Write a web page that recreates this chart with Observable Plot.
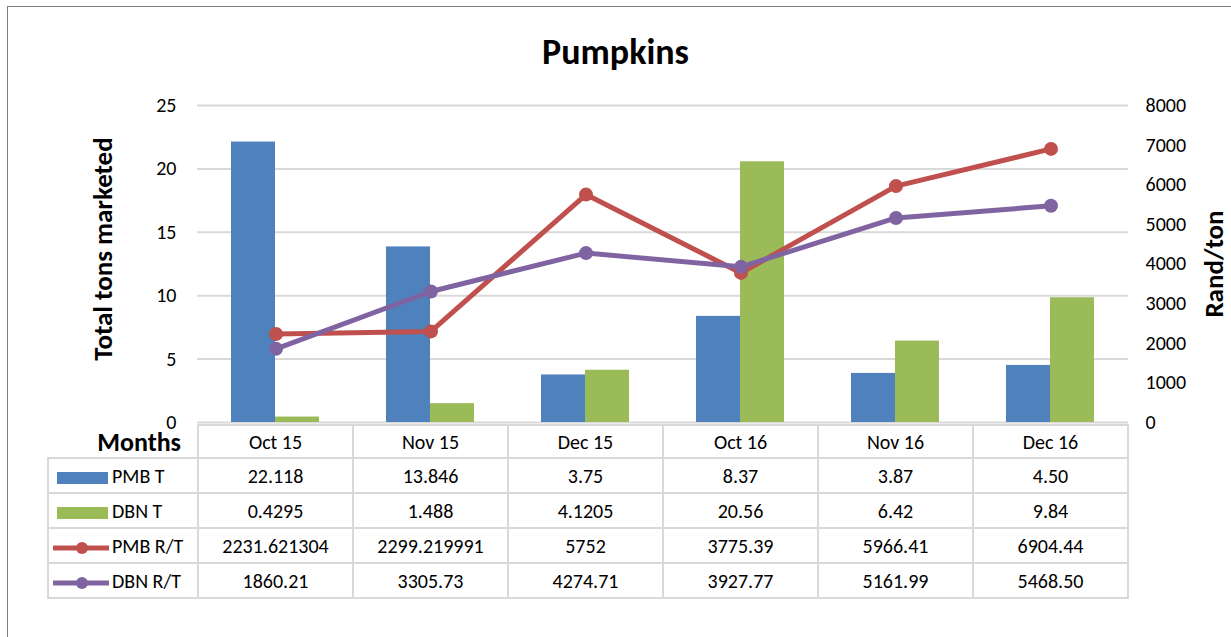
<!DOCTYPE html>
<html><head><meta charset="utf-8">
<script src="https://cdn.jsdelivr.net/npm/d3@7"></script>
<script src="https://cdn.jsdelivr.net/npm/@observablehq/plot@0.6"></script>
<style>
body{margin:0;background:#fff;}
#wrap{position:relative;width:1231px;height:637px;overflow:hidden;font-family:Carlito,Calibri,Lato,sans-serif;color:#000;}
#frame{position:absolute;left:7px;top:6px;width:1300px;height:700px;border-top:1.5px solid #7f7f7f;border-left:1.5px solid #7f7f7f;}
#title{position:absolute;left:0;width:1231px;top:30px;text-align:center;font-weight:bold;font-size:36px;line-height:44px;}
#chart{position:absolute;left:0;top:0;}
#tbl{position:absolute;left:47px;top:424px;border-collapse:collapse;table-layout:fixed;}
#tbl td{border:2px solid #D9D9D9;text-align:center;font-size:20px;padding:0;white-space:nowrap;}
#tbl td.leg{text-align:left;padding-left:4px;}
#tbl td.leg svg{vertical-align:middle;margin-right:3px;}
#tbl td.months{border:none;border-bottom:2px solid #D9D9D9;text-align:right;font-weight:bold;font-size:26px;padding-right:16px;vertical-align:top;line-height:28px;padding-top:3px;}
</style></head>
<body>
<div id="wrap">
  <div id="frame"></div>
  <div id="chart"></div>
  <div id="title">Pumpkins</div>
</div>
<script>
const months = ["Oct 15", "Nov 15", "Dec 15", "Oct 16", "Nov 16", "Dec 16"];
const pmbT = ["22.118", "13.846", "3.75", "8.37", "3.87", "4.50"];
const dbnT = ["0.4295", "1.488", "4.1205", "20.56", "6.42", "9.84"];
const pmbRT = ["2231.621304", "2299.219991", "5752", "3775.39", "5966.41", "6904.44"];
const dbnRT = ["1860.21", "3305.73", "4274.71", "3927.77", "5161.99", "5468.50"];
const leftTicks = [0, 5, 10, 15, 20, 25];
const rightTicks = [0, 1000, 2000, 3000, 4000, 5000, 6000, 7000, 8000];
const seriesNames = ["PMB T", "DBN T", "PMB R/T", "DBN R/T"];
const colors = {"PMB T": "#4F81BD", "DBN T": "#9BBB59", "PMB R/T": "#C0504D", "DBN R/T": "#8064A2"};
const title = "Pumpkins";
const yLabel = "Total tons marketed";
const y2Label = "Rand/ton";

const leftMax = 25, rightMax = 8000;
const k = rightMax / leftMax;

const rows = (arr) => months.map((m, i) => ({month: m, value: +arr[i]}));
const dPmbT = rows(pmbT), dDbnT = rows(dbnT), dPmbRT = rows(pmbRT), dDbnRT = rows(dbnRT);

const font = "Carlito, Calibri, Lato, sans-serif";
const chart = Plot.plot({
  width: 1231, height: 637,
  marginLeft: 197, marginRight: 103, marginTop: 105, marginBottom: 215,
  style: {fontFamily: font, fontSize: "20px", color: "#000", background: "transparent"},
  x: {type: "band", domain: months, padding: 0, axis: null},
  y: {domain: [0, leftMax]},
  marks: [
    Plot.gridY(leftTicks, {stroke: "#D9D9D9", strokeOpacity: 1, strokeWidth: 2}),
    Plot.barY(dPmbT, {x: "month", y: "value", fill: colors["PMB T"], insetLeft: 33, insetRight: 78}),
    Plot.barY(dDbnT, {x: "month", y: "value", fill: colors["DBN T"], insetLeft: 77, insetRight: 34}),
    Plot.line(dPmbRT, {x: "month", y: d => d.value / k, stroke: colors["PMB R/T"], strokeWidth: 5}),
    Plot.dot(dPmbRT, {x: "month", y: d => d.value / k, fill: colors["PMB R/T"], r: 7, stroke: null}),
    Plot.line(dDbnRT, {x: "month", y: d => d.value / k, stroke: colors["DBN R/T"], strokeWidth: 5}),
    Plot.dot(dDbnRT, {x: "month", y: d => d.value / k, fill: colors["DBN R/T"], r: 7, stroke: null}),
    Plot.axisY(leftTicks, {anchor: "left", tickSize: 0, tickPadding: 21, fontSize: 20, label: null}),
    Plot.axisY(rightTicks.map(v => v / k), {anchor: "right", tickSize: 0, tickPadding: 17, fontSize: 20, label: null,
      tickFormat: v => String(Math.round(v * k))})
  ]
});
document.getElementById("chart").appendChild(chart);

// axis titles
const svg = d3.select(chart);
svg.append("text").attr("transform", "translate(112,249) rotate(-90)")
  .attr("text-anchor", "middle").attr("font-weight", "bold").attr("font-size", 27)
  .attr("font-family", font).attr("fill", "#000").text(yLabel);
svg.append("text").attr("transform", "translate(1223,264) rotate(-90)")
  .attr("text-anchor", "middle").attr("font-weight", "bold").attr("font-size", 27)
  .attr("font-family", font).attr("fill", "#000").text(y2Label);

// data table
const table = d3.select("#wrap").append("table").attr("id", "tbl");
const cg = table.append("colgroup");
cg.append("col").style("width", "150px");
months.forEach(() => cg.append("col").style("width", "155px"));
const hr = table.append("tr").style("height", "33px");
hr.append("td").attr("class", "months").text("Months");
months.forEach(m => hr.append("td").text(m));
const tableData = {"PMB T": pmbT, "DBN T": dbnT, "PMB R/T": pmbRT, "DBN R/T": dbnRT};
seriesNames.forEach((name, si) => {
  const tr = table.append("tr").style("height", "35px");
  const td = tr.append("td").attr("class", "leg");
  const sw = td.append("svg").attr("width", 56).attr("height", 16);
  if (si < 2) {
    sw.append("rect").attr("x", 4).attr("y", 2).attr("width", 51).attr("height", 12).attr("fill", colors[name]);
  } else {
    sw.append("line").attr("x1", 1).attr("x2", 56).attr("y1", 8).attr("y2", 8)
      .attr("stroke", colors[name]).attr("stroke-width", 5).attr("stroke-linecap", "round");
    sw.append("circle").attr("cx", 29).attr("cy", 8).attr("r", 6).attr("fill", colors[name]);
  }
  td.append("span").text(name);
  tableData[name].forEach(v => tr.append("td").text(v));
});
</script>
</body></html>
